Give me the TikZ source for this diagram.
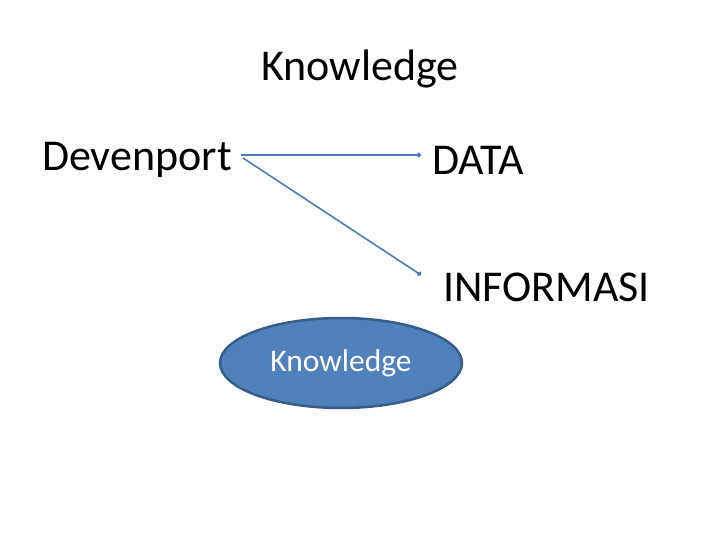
\documentclass[tikz,border=0pt]{standalone}
\usepackage{fontspec}
\setmainfont{Carlito}
\usetikzlibrary{arrows.meta,shapes.geometric}
\definecolor{linec}{HTML}{4A7EBB}
\definecolor{ellfill}{HTML}{4F81BD}
\definecolor{elldraw}{HTML}{385D8A}
\tikzset{
  bigtext/.style={inner sep=0pt, font=\fontsize{44}{50}\selectfont, text=black},
  conn/.style={draw=linec, line width=1.6pt, -{Circle[length=4.5pt]}},
  ellnode/.style={ellipse, fill=ellfill, draw=elldraw, line width=2.5pt, minimum width=242pt, minimum height=90pt, text=white, font=\fontsize{31.5}{36}\selectfont, inner sep=0pt}
}
\begin{document}
\begin{tikzpicture}[x=1pt,y=-1pt]
\useasboundingbox (0,0) rectangle (720,540);
\fill[white] (0,0) rectangle (720,540);
\node[bigtext] (title) at (360,69) {Knowledge};
\node[bigtext, anchor=east] (dev) at (232,160) {Devenport};
\node[bigtext, anchor=west] (data) at (432,160) {DATA};
\node[bigtext, anchor=west] (info) at (443,287) {INFORMASI};
\node[ellnode] (kn) at (341,363) {Knowledge};
\coordinate (s1) at (241,155);
\coordinate (s2) at (243,158);
\coordinate (e1) at (421,155);
\coordinate (e2) at (421,275);
\draw[conn] (s1) -- (e1);
\draw[conn] (s2) -- (e2);
\end{tikzpicture}
\end{document}
